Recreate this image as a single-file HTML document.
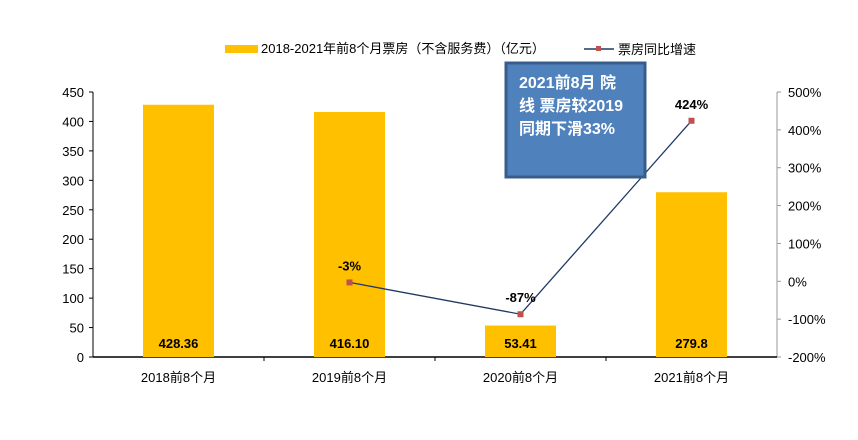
<!DOCTYPE html>
<html><head><meta charset="utf-8"><style>
body{margin:0;background:#fff;}
svg text{font-family:"Liberation Sans","Noto Sans CJK SC",sans-serif;}
</style></head><body>
<svg width="858" height="435" xmlns="http://www.w3.org/2000/svg">
<g id="legend">
  <rect x="225" y="45" width="33" height="8" fill="#FFC000"/>
  <text x="261" y="53" font-size="13" fill="#000">2018-2021年前8个月票房（不含服务费）（亿元）</text>
  <line x1="584" y1="49" x2="614" y2="49" stroke="#1F3864" stroke-width="1.5"/>
  <rect x="596" y="46" width="5" height="5" fill="#C0504D"/>
  <text x="618" y="54" font-size="13" fill="#000">票房同比增速</text>
</g>
<g id="axes"></g>
<g id="bars"></g>
<g id="line"></g>
<g>
  <rect x="506" y="63" width="139" height="114" fill="#4F81BD" stroke="#385D8A" stroke-width="3"/>
  <text x="519" y="88" font-size="16" font-weight="bold" fill="#fff">2021前8月 院</text>
  <text x="519" y="111" font-size="16" font-weight="bold" fill="#fff">线 票房较2019</text>
  <text x="519" y="134" font-size="16" font-weight="bold" fill="#fff">同期下滑33%</text>
</g>
</svg>
<script>
const categories=["2018前8个月","2019前8个月","2020前8个月","2021前8个月"];
const boxOffice=[428.36,416.10,53.41,279.8];
const boxOfficeLabels=["428.36","416.10","53.41","279.8"];
const growth=[null,-3,-87,424];
const growthLabels=["","-3%","-87%","424%"];
const leftTicks=[0,50,100,150,200,250,300,350,400,450];
const rightTicks=[-200,-100,0,100,200,300,400,500];

const NS="http://www.w3.org/2000/svg";
const X0=93,X1=777,Y0=357,Y1=92;
const yL=v=>Y0-(v/450)*(Y0-Y1);
const yR=v=>Y0-((v+200)/700)*(Y0-Y1);
const band=(X1-X0)/categories.length;
const xC=i=>X0+band*(i+0.5);
function mk(tag,attrs,parent,txt){const e=document.createElementNS(NS,tag);for(const k in attrs)e.setAttribute(k,attrs[k]);if(txt!==undefined)e.textContent=txt;parent.appendChild(e);return e;}
const axes=document.getElementById('axes'),bars=document.getElementById('bars'),line=document.getElementById('line');

// left axis
let la=mk('line',{x1:X0,y1:Y1,x2:X0,y2:Y0,stroke:'#000','stroke-width':1},axes);


leftTicks.forEach(t=>{
  mk('line',{x1:X0-4,y1:yL(t),x2:X0,y2:yL(t),stroke:'#000'},axes);
  let tx=mk('text',{x:X0-9,y:yL(t)+5,'font-size':13,'text-anchor':'end'},axes,String(t));
  
  
});
// right axis
let ra=mk('line',{x1:X1,y1:Y1,x2:X1,y2:Y0,stroke:'#999','stroke-width':1},axes);


rightTicks.forEach(t=>{
  mk('line',{x1:X1,y1:yR(t),x2:X1+4,y2:yR(t),stroke:'#999'},axes);
  let tx=mk('text',{x:X1+11,y:yR(t)+5,'font-size':13},axes,t+'%');
  
  
});
// x axis
let xa=mk('line',{x1:X0,y1:Y0,x2:X1,y2:Y0,stroke:'#000','stroke-width':1.5},axes);


for(let i=1;i<categories.length;i++)mk('line',{x1:X0+band*i,y1:Y0,x2:X0+band*i,y2:Y0+4,stroke:'#000'},axes);
categories.forEach((c,i)=>{
  let tx=mk('text',{x:xC(i),y:Y0+25,'font-size':13,'text-anchor':'middle'},axes,c);
  
  
});
// bars
const bw=71;
boxOffice.forEach((v,i)=>{
  let r=mk('rect',{x:xC(i)-bw/2,y:yL(v),width:bw,height:Y0-yL(v),fill:'#FFC000'},bars);
  
  
  let t=mk('text',{x:xC(i),y:Y0-9,'font-size':13,'font-weight':'bold','text-anchor':'middle'},bars,boxOfficeLabels[i]);
  
  
});
// line
const pts=[];growth.forEach((g,i)=>{if(g!==null)pts.push([xC(i),yR(g),i]);});
let pl=mk('polyline',{points:pts.map(p=>p[0]+','+p[1]).join(' '),fill:'none',stroke:'#1F3864','stroke-width':1.3},line);


pts.forEach(p=>{
  let m=mk('rect',{x:p[0]-3,y:p[1]-3,width:6,height:6,fill:'#C0504D'},line);
  
  
  let t=mk('text',{x:p[0],y:p[1]-12,'font-size':13,'font-weight':'bold','text-anchor':'middle'},line,growthLabels[p[2]]);
  
  
});
</script>
</body></html>
